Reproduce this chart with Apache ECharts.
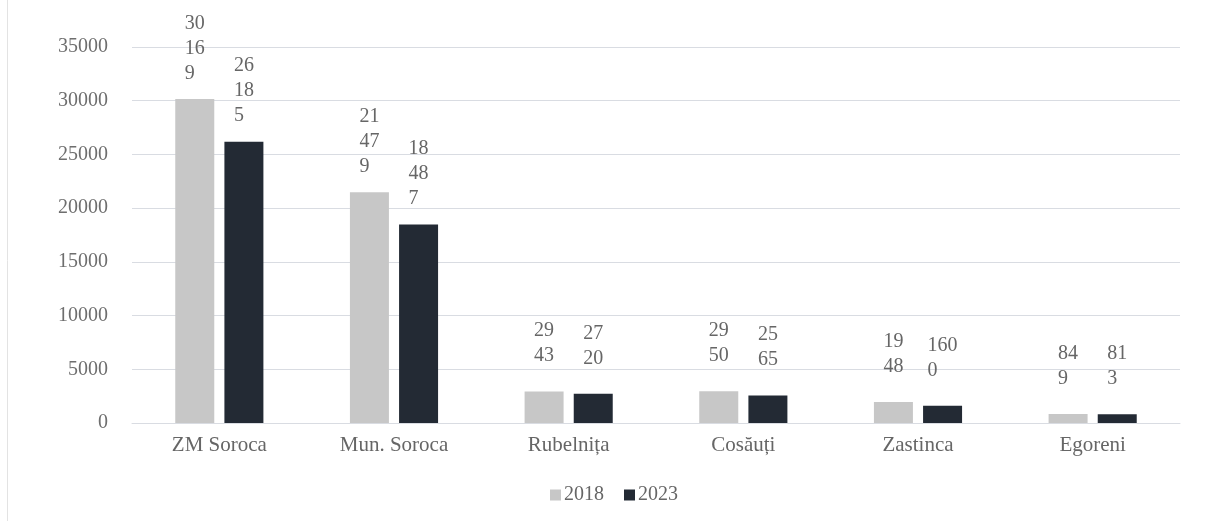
<!DOCTYPE html>
<html>
<head>
<meta charset="utf-8">
<script src="https://cdn.jsdelivr.net/npm/echarts@6/dist/echarts.min.js"></script>
<style>
  html, body { margin: 0; padding: 0; background: #ffffff; }
  #chart { width: 1205px; height: 521px; }
</style>
</head>
<body>
<div id="chart"></div>
<script>
// Population by locality, 2018 vs 2023
const categories = ['ZM Soroca', 'Mun. Soroca', 'Rubelnița', 'Cosăuți', 'Zastinca', 'Egoreni'];
const values2018 = [30169, 21479, 2943, 2950, 1948, 849];
const values2023 = [26185, 18487, 2720, 2565, 1600, 813];
// digits per line in the wrapped value labels
const wrap2018 = [2, 2, 2, 2, 2, 2];
const wrap2023 = [2, 2, 2, 2, 3, 2];
const seriesNames = ['2018', '2023'];
const yTicks = { min: 0, max: 35000, interval: 5000 };

const FONT = '"Liberation Serif", "Times New Roman", serif';
const TEXT = '#666666';

// split a number into short lines, left-aligned by padding with figure spaces
function wrapLabel(v, n) {
  const s = String(v);
  const lines = [];
  for (let i = 0; i < s.length; i += n) lines.push(s.slice(i, i + n));
  const w = Math.max(...lines.map(l => l.length));
  return lines.map(l => l + '\u2007'.repeat(w - l.length)).join('\n');
}

function buildData(values, wraps) {
  return values.map((v, i) => {
    const text = wrapLabel(v, wraps[i]);
    const nLines = text.split('\n').length;
    return {
      value: v,
      label: { formatter: text, distance: nLines > 2 ? 13 : 23 }
    };
  });
}

const chart = echarts.init(document.getElementById('chart'), null, { renderer: 'canvas' });

const labelStyle = {
  show: true,
  position: 'top',
  fontFamily: FONT,
  fontSize: 20,
  lineHeight: 25,
  color: TEXT
};

chart.setOption({
  animation: false,
  backgroundColor: '#ffffff',
  textStyle: { fontFamily: FONT },
  graphic: [{
    type: 'line',
    shape: { x1: 7.5, y1: 0, x2: 7.5, y2: 521 },
    style: { stroke: '#e3e3e3', lineWidth: 1 }
  }],
  grid: { left: 132, right: 25, top: 47, bottom: 98 },
  legend: {
    data: seriesNames,
    top: 480,
    left: 545,
    itemWidth: 11,
    itemHeight: 11,
    itemGap: 20,
    icon: 'rect',
    textStyle: { fontFamily: FONT, fontSize: 20, color: TEXT, padding: [0, 0, 0, -2] }
  },
  xAxis: {
    type: 'category',
    data: categories,
    axisLine: { lineStyle: { color: '#d9dce2' } },
    axisTick: { show: false },
    axisLabel: { fontFamily: FONT, fontSize: 21, color: TEXT, margin: 12 }
  },
  yAxis: {
    type: 'value',
    min: yTicks.min,
    max: yTicks.max,
    interval: yTicks.interval,
    axisLine: { show: false },
    axisTick: { show: false },
    splitLine: { lineStyle: { color: '#d9dce2', width: 1 } },
    axisLabel: {
      fontFamily: FONT, fontSize: 20, color: '#6e6e6e', margin: 24,
      formatter: v => String(v)
    }
  },
  series: [
    {
      name: seriesNames[0],
      type: 'bar',
      barWidth: 39,
      barGap: '26%',
      itemStyle: { color: '#c7c7c7' },
      label: labelStyle,
      data: buildData(values2018, wrap2018)
    },
    {
      name: seriesNames[1],
      type: 'bar',
      barWidth: 39,
      barGap: '26%',
      itemStyle: { color: '#232a34' },
      label: labelStyle,
      data: buildData(values2023, wrap2023)
    }
  ]
});
</script>
</body>
</html>
